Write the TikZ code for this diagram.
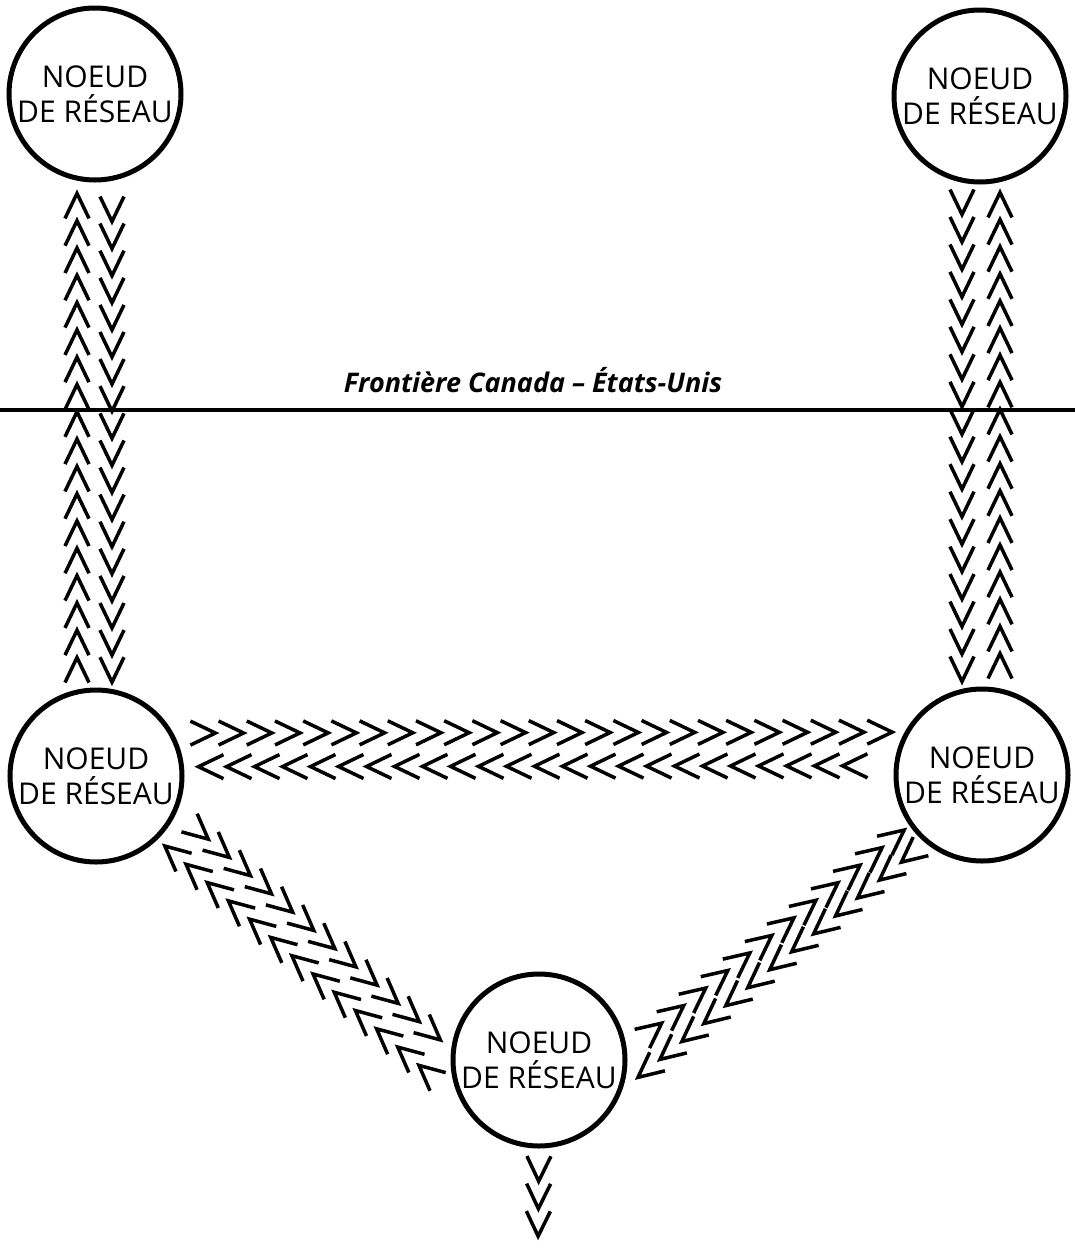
\documentclass[tikz,border=0pt]{standalone}
\usepackage{fontspec}
\setmainfont{Open Sans}
\usetikzlibrary{decorations.markings}
\tikzstyle{noeud} = [circle, draw, line width=5pt, minimum size=172pt, inner sep=0pt, align=center, font=\fontsize{30}{35}\selectfont]
\tikzstyle{chevron} = [line width=3.5pt]
\tikzstyle{frontiere} = [line width=3.5pt]
% une file de chevrons le long du chemin : debut, fin, pas
\tikzset{fleches/.style n args={3}{postaction={decorate},
    decoration={markings, mark=between positions #1 and #2 step #3 with
      {\draw[chevron] (-25pt,-12pt) -- (0pt,0pt) -- (-25pt,12pt);}}}}

\begin{document}
\begin{tikzpicture}[x=1pt, y=-1pt]

        \useasboundingbox (0,0) rectangle (1075,1248);

        \node[noeud] (hg) at (95,94) {NOEUD\\DE RÉSEAU};
        \node[noeud] (hd) at (980,96) {NOEUD\\DE RÉSEAU};
        \node[noeud] (mg) at (96,776) {NOEUD\\DE RÉSEAU};
        \node[noeud] (md) at (982,775) {NOEUD\\DE RÉSEAU};
        \node[noeud] (bas) at (539,1060) {NOEUD\\DE RÉSEAU};

        % frontiere
        \coordinate (bordg) at (0,410);
        \coordinate (bordd) at (1075,410);
        \draw[frontiere] (bordg) -- (bordd);
        \node[anchor=base, font=\fontsize{27}{30}\selectfont\bfseries\itshape] (legende) at (533,392) {Frontière Canada – États-Unis};

        % liaisons verticales
        \path[fleches={30pt}{495pt}{27.3pt}] ([xshift=-19pt]mg.north) -- ([xshift=-18pt]hg.south);
        \path[fleches={39pt}{501pt}{27.1pt}] ([xshift=17pt]hg.south) -- ([xshift=16pt]mg.north);
        \path[fleches={30pt}{498pt}{27.47pt}] ([xshift=-18pt]hd.south) -- ([xshift=-20pt]md.north);
        \path[fleches={33pt}{495pt}{27.12pt}] ([xshift=18pt]md.north) -- ([xshift=20pt]hd.south);

        % liaison horizontale
        \path[fleches={42pt}{720pt}{28.2pt}] (mg.29) -- (md.151.5);
        \path[fleches={51.5pt}{697pt}{28pt}] (md.174) -- (mg.6.5);

        % liaisons obliques
        \path[fleches={41.5pt}{350pt}{27.9pt}] (mg.-24.7) -- (bas.173.5);
        \path[fleches={55.4pt}{392pt}{27.97pt}] (bas.208.5) -- (mg.-46.3);
        \path[fleches={44.3pt}{355pt}{28.18pt}] (bas.6.4) -- (md.215.5);
        \path[fleches={30.6pt}{372pt}{28.35pt}] (md.230.7) -- (bas.-20.8);

        % sortie vers le bas
        \coordinate (sortie) at (538,1248);
        \path[fleches={32.7pt}{90pt}{27.5pt}] (bas.south) -- (sortie);

\end{tikzpicture}
\end{document}
